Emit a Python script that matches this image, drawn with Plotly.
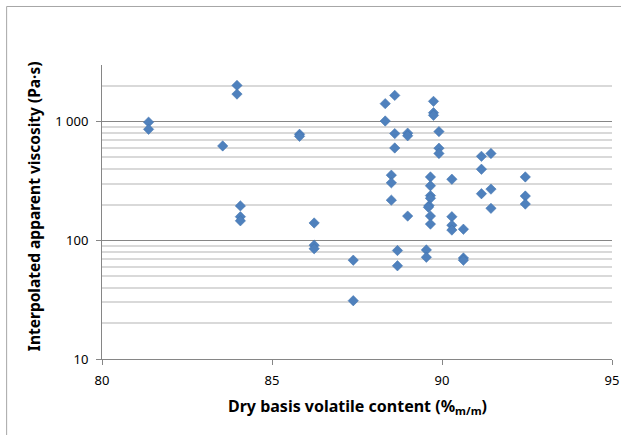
import plotly.graph_objects as go

# Volatile content (dry basis, %m/m) and interpolated viscosity (Pa.s)
volatile = [81.37, 81.37, 83.55, 83.97, 83.97, 84.07, 84.07, 84.07, 85.81, 85.81,
            86.24, 86.24, 86.24, 87.39, 87.39,
            88.33, 88.33, 88.61, 88.61, 88.61, 88.51, 88.51, 88.51, 88.69, 88.69,
            88.99, 88.99, 88.99,
            89.75, 89.75, 89.75, 89.91, 89.91, 89.91,
            89.66, 89.66, 89.66, 89.66, 89.62, 89.60, 89.66, 89.66, 89.54, 89.54,
            90.29, 90.29, 90.29, 90.29, 90.63, 90.63, 90.63,
            91.16, 91.16, 91.16, 91.44, 91.44, 91.44,
            92.45, 92.45, 92.45]
viscosity = [990, 861, 624, 2020, 1706, 195, 158, 146, 782, 752,
             140, 91, 85, 68, 31,
             1417, 1012, 1664, 793, 600, 354, 305, 218, 82, 61,
             800, 760, 160,
             1482, 1189, 1130, 824, 597, 539,
             342, 288, 238, 226, 196, 190, 160, 137, 83, 72,
             327, 158, 134, 122, 124, 71, 68,
             510, 397, 247, 539, 270, 186,
             342, 236, 202]

y_ticks = [10, 100, 1000]
y_ticktext = ["10", "100", "1 000"]
y_minor = [20, 30, 40, 50, 60, 70, 80, 90,
           200, 300, 400, 500, 600, 700, 800, 900, 2000, 3000]
x_ticks = [80, 85, 90, 95]

titulo_x = "<b>Dry basis volatile content (%<sub>m/m</sub>)</b>"
titulo_y = "<b>Interpolated apparent viscosity (Pa·s)</b>"

fonte = "Noto Sans"
cinza = "#868686"

chart_layout = dict(
    width=621,
    height=435,
    font={"family": fonte, "size": 13, "color": "#000000"},
    margin=dict(l=102, r=9, t=65, b=76),
    paper_bgcolor="white",
    plot_bgcolor="white",
    showlegend=False,
)

fig = go.Figure(go.Scatter(
    x=volatile,
    y=viscosity,
    mode="markers",
    marker=dict(symbol="diamond", size=8, color="#4F81BD",
                line=dict(width=0.5, color="#3F70AA")),
))

fig.update_layout(chart_layout)
fig.update_layout(
    xaxis={
        "range": [80, 95],
        "tickvals": x_ticks,
        "automargin": False,
        "showgrid": False,
        "zeroline": False,
        "showline": True,
        "linecolor": cinza,
        "ticks": "outside",
        "ticklen": 5,
        "tickcolor": cinza,
        "ticklabelstandoff": 4,
    },
    yaxis={
        "type": "log",
        "range": [1, 3.4771],
        "tickvals": y_ticks,
        "ticktext": y_ticktext,
        "automargin": False,
        "showgrid": True,
        "gridcolor": cinza,
        "gridwidth": 1,
        "zeroline": False,
        "showline": True,
        "linecolor": cinza,
        "ticks": "outside",
        "ticklen": 5,
        "tickcolor": cinza,
        "ticklabelstandoff": 5,
        "minor": {"tickvals": y_minor, "showgrid": True,
                  "gridcolor": "#D9D9D9", "gridwidth": 1.5, "ticks": ""},
    },
)

# titulos dos eixos como anotações (posição fixa)
fig.add_annotation(text=titulo_x, xref="paper", yref="paper", x=0.5, y=-0.163,
                   xanchor="center", yanchor="middle", showarrow=False,
                   font=dict(size=16))
fig.add_annotation(text=titulo_y, xref="paper", yref="paper", x=-0.1333, y=0.52,
                   xanchor="center", yanchor="middle", textangle=-90, showarrow=False,
                   font=dict(size=15.5))

# borda da área do gráfico (estilo Excel)
fig.add_shape(type="rect", xref="paper", yref="paper",
              x0=-0.187, x1=1.1, y0=-0.4, y1=1.199,
              line=dict(color="#A6A6A6", width=1), layer="below")

# sem margem do body e sem modebar
fig.write_html("out.html", config={"displayModeBar": False},
               post_script="document.body.style.margin='0';")
